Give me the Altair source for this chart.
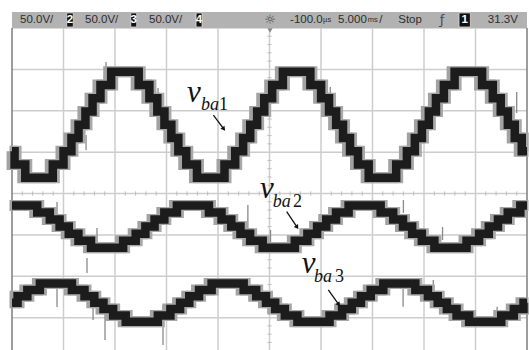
import altair as alt
import pandas as pd

# ---------------- data (time in ms, 5 ms/div ; voltage in V, 50 V/div) ----------------
v1_t = [0, 0.25, 1.29, 3.96, 5.00, 5.77, 6.46, 7.13, 7.82, 8.59, 9.63, 12.30, 13.34, 14.11,
        14.80, 15.47, 16.15, 16.92, 17.96, 20.63, 21.67, 22.44, 23.13, 23.80, 24.49, 25.26,
        26.30, 28.97, 30.01, 30.78, 31.47, 32.14, 32.82, 33.59, 34.63, 37.30, 38.34, 39.11,
        39.80, 40.47, 41.16, 41.93, 42.97, 45.64, 46.68, 47.45, 48.14, 48.81, 49.49, 50.0]
v1_v = [51, 35, 19, 35, 51, 67, 83, 99, 115, 131, 147, 131, 115, 99,
        83, 67, 51, 35, 19, 35, 51, 67, 83, 99, 115, 131,
        147, 131, 115, 99, 83, 67, 51, 35, 19, 35, 51, 67,
        83, 99, 115, 131, 147, 131, 115, 99, 83, 67, 51, 51]

v2_t = [0, 2.45, 3.67, 4.62, 5.51, 6.45, 7.67, 10.79, 12.01, 12.95, 13.84, 14.79, 16.01,
        19.12, 20.34, 21.29, 22.18, 23.12, 24.34, 27.46, 28.68, 29.62, 30.51, 31.46, 32.68,
        35.79, 37.01, 37.96, 38.85, 39.79, 41.01, 44.13, 45.35, 46.29, 47.18, 48.13, 49.35, 50]
v2_v = [-14.5, -23, -31.5, -40, -48.5, -57, -65.5, -57, -48.5, -40, -31.5, -23, -14.5,
        -23, -31.5, -40, -48.5, -57, -65.5, -57, -48.5, -40, -31.5, -23, -14.5,
        -23, -31.5, -40, -48.5, -57, -65.5, -57, -48.5, -40, -31.5, -23, -14.5, -14.5]

v3_t = [0, 0.54, 1.49, 2.71, 5.82, 7.04, 7.99, 8.88, 9.82, 11.04, 14.16, 15.38, 16.32,
        17.21, 18.16, 19.38, 22.49, 23.71, 24.66, 25.55, 26.49, 27.71, 30.83, 32.05, 32.99,
        33.88, 34.83, 36.05, 39.16, 40.38, 41.33, 42.22, 43.16, 44.38, 47.50, 48.72, 49.66, 50]
v3_v = [-132, -124.3, -116.6, -108.9, -116.6, -124.3, -132, -139.7, -147.4, -155.1, -147.4, -139.7, -132,
        -124.3, -116.6, -108.9, -116.6, -124.3, -132, -139.7, -147.4, -155.1, -147.4, -139.7, -132,
        -124.3, -116.6, -108.9, -116.6, -124.3, -132, -139.7, -147.4, -155.1, -147.4, -139.7, -132, -132]

spike_t = [9.13, 14.18, 7.19, 30.9, 42.5, 49.0,
           4.37, 7.28, 8.25, 22.9, 25.1, 41.8, 38.0,
           4.37, 7.87, 9.03, 14.66, 37.97, 40.9, 47.1]
spike_a = [158.8, 127.4, 70.7, 128.6, 152.8, 122.6,
           -10.3, -77.9, -41.7, -13.9, -44, -40.5, -7.8,
           -104.5, -126.2, -143.1, -134.7, -112.9, -104.5, -137]
spike_b = [143.1, 88.8, 52.5, 104.5, 128.6, 97.2,
           -38.0, -96.0, -65.8, -50.1, -64.6, -56.2, -23.5,
           -137.1, -152.8, -176.9, -183, -137, -125, -161]

grid_t = [5, 10, 15, 20, 25, 30, 35, 40, 45]
grid_v = [-150, -100, -50, 0, 50, 100, 150, 200]
border_t = [0, 50]

# status bar
bar_text = ["50.0V/", "50.0V/", "50.0V/", "-100.0", "5.000", "/", "Stop", "31.3V"]
bar_text_t = [0.78, 7.09, 13.3, 27.0, 31.65, 35.65, 37.5, 46.2]
unit_text = ["µs", "ms"]
unit_t = [30.2, 34.55]
box_label = ["2", "3", "4", "1"]
box_t1 = [5.31, 11.53, 17.87, 43.4]
box_t2 = [5.95, 12.11, 18.45, 44.5]

# waveform labels
lab_name = ["ba", "ba", "ba"]
lab_digit = ["1", "2", "3"]
lab_v_t = [16.99, 24.08, 28.13]
lab_v_v = [110.5, -5.4, -96.4]
lab_s_t = [18.35, 25.31, 29.32]
lab_s_v = [100.8, -16.7, -106.5]
lab_d_t = [20.10, 27.29, 31.36]
arrow_t1 = [19.55, 26.67, 30.71]
arrow_v1 = [94.8, -22.0, -116.5]
arrow_t2 = [20.52, 27.64, 31.68]
arrow_v2 = [78.7, -40.1, -133.4]
arrow_ang = [142, 146, 144]

# ---------------- scales ----------------
XS = alt.Scale(domain=[0, 50], range=[12, 527], nice=False, zero=False)
YS = alt.Scale(domain=[-200, 200], range=[359, 28], nice=False, zero=False)


def X(f="t"):
    return alt.X(f"{f}:Q", scale=XS, axis=None)


def Y(f="v"):
    return alt.Y(f"{f}:Q", scale=YS, axis=None)


waves = pd.concat([
    pd.DataFrame({"t": v1_t, "v": v1_v, "s": "vba1"}),
    pd.DataFrame({"t": v2_t, "v": v2_v, "s": "vba2"}),
    pd.DataFrame({"t": v3_t, "v": v3_v, "s": "vba3"}),
])

vgrid = pd.DataFrame({"t": grid_t, "v": -200, "v2": 200})
borders = pd.DataFrame({"t": border_t, "v": -200, "v2": 200})
hgrid = pd.DataFrame({"t": 0, "t2": 50, "v": grid_v})

minor_x = [i for i in range(1, 50) if i % 5 != 0]
minor_y = [i for i in range(-190, 200, 10) if i % 50 != 0]
tick_h = pd.DataFrame({"t": minor_x, "v": -2.6, "v2": 2.6})
tick_v = pd.DataFrame({"t": 24.8, "t2": 25.2, "v": minor_y})

spikes = pd.DataFrame({"t": spike_t, "v": spike_a, "v2": spike_b})

bar = pd.DataFrame({"t": [0], "t2": [50], "v": [200], "v2": [219.3]})
bar_txt = pd.DataFrame({"t": bar_text_t, "v": 209.5, "txt": bar_text})
unit_txt = pd.DataFrame({"t": unit_t, "v": 209.5, "txt": unit_text})
boxes = pd.DataFrame({"t": box_t1, "t2": box_t2, "v": 201.2, "v2": 218.2, "txt": box_label,
                      "tc": [(a + b) / 2 for a, b in zip(box_t1, box_t2)]})
icons = pd.DataFrame({"t": [25.05, 41.75], "v": [209.8, 209.5], "txt": ["☼", "ƒ"]})
trig = pd.DataFrame({"t": [25.05], "v": [197.0]})

lab_v = pd.DataFrame({"t": lab_v_t, "v": lab_v_v, "txt": ["v", "v", "v"]})
lab_s = pd.DataFrame({"t": lab_s_t, "v": lab_s_v, "txt": lab_name})
lab_d = pd.DataFrame({"t": lab_d_t, "v": lab_s_v, "txt": lab_digit})
arrows = pd.DataFrame({"t": arrow_t1, "v": arrow_v1, "t2": arrow_t2, "v2": arrow_v2, "ang": arrow_ang})

layers = [
    alt.Chart(vgrid).mark_rule(color="#cdcdcd", strokeWidth=1.5).encode(x=X(), y=Y(), y2="v2"),
    alt.Chart(hgrid).mark_rule(color="#cdcdcd", strokeWidth=1.5).encode(x=X(), x2="t2", y=Y()),
    alt.Chart(tick_h).mark_rule(color="#bdbdbd", strokeWidth=1).encode(x=X(), y=Y(), y2="v2"),
    alt.Chart(tick_v).mark_rule(color="#bdbdbd", strokeWidth=1).encode(x=X(), x2="t2", y=Y()),
    alt.Chart(borders).mark_rule(color="#7d7d7d", strokeWidth=1.5).encode(x=X(), y=Y(), y2="v2"),
    alt.Chart(spikes).mark_rule(color="#8a8a8a", strokeWidth=1.3).encode(x=X(), y=Y(), y2="v2"),
    alt.Chart(waves).mark_line(interpolate="step-after", strokeWidth=11, color="#a2a2a2",
                               strokeJoin="miter", strokeCap="butt", xOffset=-2.5).encode(
        x=X(), y=Y(), detail="s:N"),
    alt.Chart(waves).mark_line(interpolate="step-after", strokeWidth=11, color="#a8a8a8",
                               strokeJoin="miter", strokeCap="butt", xOffset=1.5).encode(
        x=X(), y=Y(), detail="s:N"),
    alt.Chart(waves).mark_line(interpolate="step-after", strokeWidth=8.5, color="#1c1c1c",
                               strokeJoin="miter", strokeCap="butt").encode(x=X(), y=Y(), detail="s:N"),
    alt.Chart(bar).mark_rect(color="#b2b2b2").encode(x=X(), x2="t2", y=Y(), y2="v2"),
    alt.Chart(boxes).mark_rect(color="#111111", stroke="#e0e0e0", strokeWidth=0.8).encode(
        x=X(), x2="t2", y=Y(), y2="v2"),
    alt.Chart(boxes).mark_text(color="white", font="Liberation Sans", fontSize=11.5, fontWeight="bold",
                               align="center", baseline="middle", dy=0.5).encode(
        x=X("tc"), y=Y(), text="txt:N").transform_calculate(v="209.7"),
    alt.Chart(bar_txt).mark_text(color="#2e2e2e", font="Liberation Sans", fontSize=11.5,
                                 align="left", baseline="middle").encode(x=X(), y=Y(), text="txt:N"),
    alt.Chart(unit_txt).mark_text(color="#2e2e2e", font="Liberation Sans", fontSize=7.5,
                                  align="left", baseline="middle").encode(x=X(), y=Y(), text="txt:N"),
    alt.Chart(icons).mark_text(color="#4a4a4a", font="DejaVu Sans", fontSize=13,
                               align="center", baseline="middle").encode(x=X(), y=Y(), text="txt:N"),
    alt.Chart(trig).mark_point(shape="triangle-down", filled=True, color="#8a8a8a", size=28,
                               opacity=1).encode(x=X(), y=Y()),
    alt.Chart(lab_v).mark_text(color="#111111", font="Liberation Serif", fontStyle="italic", fontSize=31,
                               align="left", baseline="alphabetic").encode(x=X(), y=Y(), text="txt:N"),
    alt.Chart(lab_s).mark_text(color="#111111", font="Liberation Serif", fontStyle="italic", fontSize=18,
                               align="left", baseline="alphabetic").encode(x=X(), y=Y(), text="txt:N"),
    alt.Chart(lab_d).mark_text(color="#111111", font="Liberation Serif", fontSize=18,
                               align="left", baseline="alphabetic").encode(x=X(), y=Y(), text="txt:N"),
    alt.Chart(arrows).mark_rule(color="#111111", strokeWidth=1.3).encode(x=X(), x2="t2", y=Y(), y2="v2"),
    alt.Chart(arrows).mark_point(shape="triangle", filled=True, color="#111111", size=26, opacity=1).encode(
        x=X("t2"), y=Y("v2"), angle=alt.Angle("ang:Q", scale=None)),
]

chart = alt.layer(*layers).properties(
    width=529, height=350, padding=0, autosize=alt.AutoSizeParams(type="none"),
    background="white",
).configure_view(stroke=None)

chart.save("out.html", embed_options={"renderer": "svg", "actions": False})
